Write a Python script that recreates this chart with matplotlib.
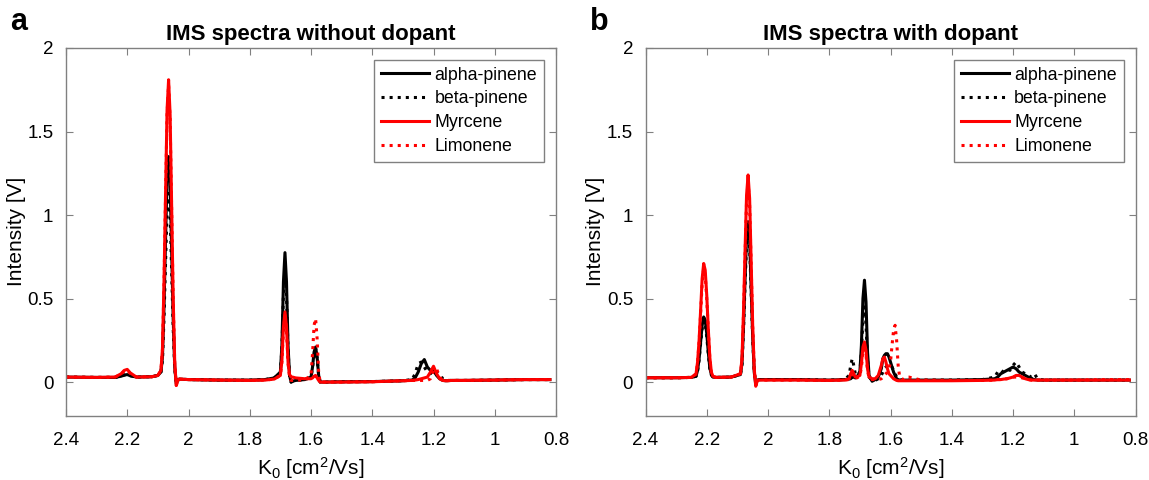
import numpy as np
import matplotlib
matplotlib.use('Agg')
import matplotlib.pyplot as plt

plt.rcParams['font.family'] = ['Liberation Sans', 'DejaVu Sans']
plt.rcParams['mathtext.default'] = 'regular'

# panel a: without dopant
ka = [2.40, 2.30, 2.24, 2.22, 2.21, 2.20, 2.19, 2.17, 2.12, 2.10, 2.09, 2.085,
      2.08, 2.075, 2.07, 2.065, 2.06, 2.055, 2.05, 2.045, 2.04, 2.035, 2.03,
      2.00, 1.90, 1.80, 1.75, 1.72, 1.70, 1.695, 1.69, 1.685, 1.68, 1.675,
      1.67, 1.665, 1.66, 1.65, 1.62, 1.60, 1.595, 1.59, 1.585, 1.58, 1.575,
      1.57, 1.56, 1.50, 1.40, 1.30, 1.27, 1.26, 1.25, 1.24, 1.23, 1.22, 1.21,
      1.20, 1.19, 1.18, 1.17, 1.16, 1.14, 1.10, 1.00, 0.90, 0.82]

alpha_a = [0.030, 0.028, 0.028, 0.035, 0.042, 0.045, 0.038, 0.030, 0.032, 0.040, 0.060, 0.150, 0.450, 0.850, 1.220, 1.350, 1.190, 0.780, 0.380, 0.090, -0.010, 0.010, 0.018,
           0.015, 0.012, 0.012, 0.015, 0.025, 0.060, 0.220, 0.600, 0.775, 0.600, 0.220, 0.040, 0.000, 0.005, 0.010, 0.015, 0.030, 0.090, 0.180, 0.210, 0.150, 0.040, 0.000, 0.000,
           0.002, 0.003, 0.008, 0.012, 0.025, 0.060, 0.110, 0.135, 0.090, 0.070, 0.070, 0.040, 0.020, 0.010, 0.008, 0.010, 0.010, 0.012, 0.015, 0.015]
beta_a = [0.030, 0.028, 0.028, 0.035, 0.042, 0.045, 0.038, 0.030, 0.032, 0.040, 0.060, 0.130, 0.380, 0.710, 1.020, 1.130, 1.000, 0.660, 0.320, 0.080, -0.010, 0.010, 0.018,
          0.015, 0.012, 0.012, 0.015, 0.025, 0.055, 0.200, 0.530, 0.680, 0.520, 0.190, 0.035, 0.000, 0.005, 0.010, 0.015, 0.030, 0.085, 0.170, 0.200, 0.140, 0.040, 0.000, 0.000,
          0.002, 0.003, 0.008, 0.015, 0.050, 0.110, 0.120, 0.090, 0.060, 0.050, 0.070, 0.060, 0.050, 0.020, 0.010, 0.010, 0.010, 0.012, 0.015, 0.015]
myrcene_a = [0.030, 0.028, 0.030, 0.050, 0.070, 0.076, 0.055, 0.030, 0.032, 0.040, 0.070, 0.200, 0.600, 1.120, 1.630, 1.810, 1.600, 1.050, 0.500, 0.120, -0.020, 0.010, 0.018,
             0.015, 0.012, 0.010, 0.012, 0.018, 0.040, 0.130, 0.330, 0.420, 0.330, 0.120, 0.045, 0.030, 0.030, 0.025, 0.020, 0.020, 0.025, 0.035, 0.040, 0.025, 0.010, 0.000, 0.000,
             0.000, 0.002, 0.008, 0.010, 0.012, 0.015, 0.020, 0.025, 0.030, 0.060, 0.095, 0.050, 0.020, 0.010, 0.008, 0.010, 0.010, 0.012, 0.015, 0.015]
limonene_a = [0.030, 0.028, 0.030, 0.048, 0.065, 0.070, 0.052, 0.030, 0.032, 0.040, 0.070, 0.190, 0.580, 1.100, 1.600, 1.780, 1.570, 1.030, 0.490, 0.110, -0.020, 0.010, 0.018,
              0.015, 0.012, 0.010, 0.012, 0.018, 0.040, 0.120, 0.310, 0.400, 0.310, 0.110, 0.030, 0.010, 0.010, 0.010, 0.015, 0.040, 0.170, 0.340, 0.380, 0.260, 0.060, 0.000, 0.000,
              0.000, 0.002, 0.008, 0.010, 0.010, 0.010, 0.010, 0.010, 0.010, 0.020, 0.070, 0.080, 0.030, 0.010, 0.008, 0.010, 0.010, 0.012, 0.015, 0.015]

# panel b: with dopant
kb = [2.40, 2.30, 2.25, 2.235, 2.23, 2.225, 2.22, 2.215, 2.21, 2.205, 2.20, 2.195,
      2.19, 2.185, 2.18, 2.17, 2.12, 2.09, 2.085, 2.08, 2.075, 2.07, 2.065, 2.06,
      2.055, 2.05, 2.045, 2.04, 2.035, 2.03, 2.00, 1.90, 1.80, 1.75, 1.735, 1.73,
      1.725, 1.72, 1.715, 1.71, 1.70, 1.695, 1.69, 1.685, 1.68, 1.675, 1.67,
      1.66, 1.65, 1.64, 1.63, 1.625, 1.62, 1.615, 1.61, 1.605, 1.60, 1.595,
      1.59, 1.585, 1.58, 1.575, 1.57, 1.56, 1.55, 1.54, 1.50, 1.40, 1.30, 1.26,
      1.25, 1.24, 1.23, 1.22, 1.21, 1.20, 1.19, 1.18, 1.17, 1.16, 1.15, 1.14,
      1.13, 1.12, 1.10, 1.00, 0.90, 0.82]

alpha_b = [0.026, 0.026, 0.028, 0.035, 0.070, 0.140, 0.240, 0.340, 0.390, 0.370, 0.290, 0.180, 0.085, 0.045, 0.030, 0.028,
           0.030, 0.045, 0.110, 0.330, 0.610, 0.870, 0.960, 0.850, 0.560, 0.270, 0.060, -0.015, 0.012, 0.015,
           0.015, 0.015, 0.012, 0.015, 0.018, 0.020, 0.030, 0.030, 0.025, 0.030, 0.060, 0.220, 0.500, 0.610, 0.480, 0.180, 0.040, 0.005, 0.015,
           0.030, 0.080, 0.140, 0.160, 0.170, 0.170, 0.150, 0.120, 0.090, 0.060, 0.040, 0.020, 0.015, 0.012, 0.012, 0.012, 0.012,
           0.012, 0.012, 0.015, 0.020, 0.030, 0.050, 0.060, 0.070, 0.080, 0.090, 0.080, 0.060, 0.050, 0.040, 0.030, 0.020, 0.015, 0.012, 0.012, 0.012, 0.012, 0.012]
beta_b = [0.026, 0.026, 0.028, 0.035, 0.065, 0.130, 0.230, 0.320, 0.370, 0.350, 0.270, 0.170, 0.080, 0.043, 0.030, 0.028,
          0.030, 0.045, 0.100, 0.310, 0.580, 0.830, 0.920, 0.810, 0.540, 0.260, 0.060, -0.015, 0.012, 0.015,
          0.015, 0.015, 0.012, 0.015, 0.040, 0.100, 0.140, 0.100, 0.050, 0.040, 0.060, 0.180, 0.380, 0.450, 0.350, 0.130, 0.030, 0.010, 0.010,
          0.020, 0.040, 0.060, 0.080, 0.090, 0.100, 0.100, 0.100, 0.090, 0.070, 0.050, 0.030, 0.020, 0.015, 0.012, 0.012, 0.012,
          0.012, 0.012, 0.015, 0.030, 0.060, 0.050, 0.070, 0.080, 0.070, 0.100, 0.120, 0.090, 0.060, 0.050, 0.040, 0.030, 0.050, 0.020, 0.012, 0.012, 0.012, 0.012]
myrcene_b = [0.026, 0.026, 0.028, 0.050, 0.120, 0.250, 0.430, 0.620, 0.710, 0.670, 0.520, 0.320, 0.150, 0.060, 0.035, 0.028,
             0.030, 0.050, 0.140, 0.420, 0.780, 1.120, 1.240, 1.100, 0.720, 0.340, 0.080, -0.025, 0.008, 0.012,
             0.012, 0.012, 0.010, 0.012, 0.020, 0.050, 0.070, 0.050, 0.030, 0.030, 0.040, 0.110, 0.210, 0.240, 0.190, 0.080, 0.030, 0.020, 0.020,
             0.040, 0.100, 0.140, 0.150, 0.120, 0.080, 0.050, 0.040, 0.030, 0.020, 0.015, 0.010, 0.008, 0.008, 0.008, 0.008, 0.008,
             0.008, 0.008, 0.010, 0.012, 0.015, 0.015, 0.018, 0.020, 0.025, 0.030, 0.040, 0.040, 0.030, 0.020, 0.015, 0.012, 0.012, 0.012, 0.012, 0.012, 0.012, 0.012]
limonene_b = [0.026, 0.026, 0.028, 0.048, 0.115, 0.240, 0.410, 0.590, 0.680, 0.640, 0.500, 0.310, 0.145, 0.058, 0.034, 0.028,
              0.030, 0.050, 0.130, 0.400, 0.750, 1.080, 1.200, 1.060, 0.700, 0.330, 0.080, -0.025, 0.008, 0.012,
              0.012, 0.012, 0.010, 0.012, 0.015, 0.030, 0.050, 0.040, 0.025, 0.025, 0.035, 0.090, 0.170, 0.200, 0.160, 0.070, 0.025, 0.015, 0.015,
              0.015, 0.020, 0.030, 0.040, 0.050, 0.060, 0.080, 0.120, 0.220, 0.310, 0.340, 0.250, 0.100, 0.030, 0.015, 0.030, 0.030,
              0.012, 0.010, 0.010, 0.012, 0.015, 0.015, 0.018, 0.020, 0.025, 0.030, 0.030, 0.030, 0.025, 0.020, 0.015, 0.012, 0.012, 0.012, 0.012, 0.012, 0.015, 0.015]

names = ['alpha-pinene', 'beta-pinene', 'Myrcene', 'Limonene']
colors = ['black', 'black', 'red', 'red']
styles = ['-', ':', '-', ':']

xticks = [2.4, 2.2, 2.0, 1.8, 1.6, 1.4, 1.2, 1.0, 0.8]
xticklabels = ['2.4', '2.2', '2', '1.8', '1.6', '1.4', '1.2', '1', '0.8']
yticks = [0, 0.5, 1, 1.5, 2]
yticklabels = ['0', '0.5', '1', '1.5', '2']

panels = [
    ('a', 'IMS spectra without dopant', ka, [alpha_a, beta_a, myrcene_a, limonene_a], 66),
    ('b', 'IMS spectra with dopant', kb, [alpha_b, beta_b, myrcene_b, limonene_b], 645.5),
]

W, H = 1149, 480
fig = plt.figure(figsize=(W / 100, H / 100), dpi=100)

for letter, title, k, series, left_px in panels:
    ax = fig.add_axes([left_px / W, 1 - 415.5 / H, 490 / W, (415.5 - 48) / H])
    for ys, name, c, ls in zip(series, names, colors, styles):
        ax.plot(k, ys, color=c, ls=ls, lw=2.2, label=name)

    ax.set_xlim(2.4, 0.8)
    ax.set_ylim(-0.2, 2)
    ax.set_xticks(xticks)
    ax.set_xticklabels(xticklabels)
    ax.set_yticks(yticks)
    ax.set_yticklabels(yticklabels)
    ax.tick_params(direction='in', top=True, right=True, length=5, width=0.8,
                   color='#808080', labelsize=13.5)
    ax.tick_params(axis='x', pad=12)
    ax.tick_params(axis='y', pad=9)
    for sp in ax.spines.values():
        sp.set_color('#808080')
        sp.set_linewidth(1.0)

    ax.set_xlabel('K$_0$ [cm$^2$/Vs]', fontsize=15, labelpad=4)
    ax.set_ylabel('Intensity [V]', fontsize=15, labelpad=1)
    ax.set_title(title, fontsize=16, fontweight='bold', pad=6)

    leg = ax.legend(loc='upper right', fontsize=12.8, fancybox=False, framealpha=1,
                    edgecolor='#808080', handlelength=2.7, labelspacing=0.38,
                    borderaxespad=0.65, handletextpad=0.3, borderpad=0.4)
    leg.get_frame().set_linewidth(1.0)

    fig.text((left_px - 56) / W, 1 - 30 / H, letter, fontsize=22, fontweight='bold',
             ha='left', va='baseline')

fig.savefig('out.png', dpi=100)
